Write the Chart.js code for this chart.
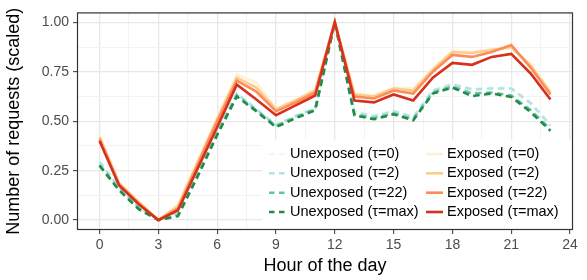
<!DOCTYPE html>
<html>
<head>
<meta charset="utf-8">
<script src="https://cdn.jsdelivr.net/npm/chart.js@4.4.1/dist/chart.umd.min.js"></script>
<style>
  html, body { margin: 0; padding: 0; background: #ffffff; }
  #wrap { width: 587px; height: 280px; }
</style>
</head>
<body>
<div id="wrap"><canvas id="c" width="587" height="280"></canvas></div>
<script>
// ---- data ----
const hours = [0,1,2,3,4,5,6,7,8,9,10,11,12,13,14,15,16,17,18,19,20,21,22,23];
const xTickValues = [0,3,6,9,12,15,18,21,24];
const yTickValues = [0,0.25,0.5,0.75,1];

const unexposedTau0   = [0.30,0.17,0.07,0.00,0.045,0.245,0.455,0.645,0.565,0.485,0.53,0.57,1.00,0.55,0.53,0.555,0.525,0.66,0.69,0.665,0.67,0.67,0.595,0.485];
const unexposedTau2   = [0.295,0.165,0.065,0.00,0.04,0.24,0.45,0.64,0.56,0.48,0.525,0.565,1.00,0.545,0.525,0.55,0.52,0.655,0.685,0.66,0.665,0.665,0.59,0.478];
const unexposedTau22  = [0.28,0.155,0.06,0.00,0.025,0.225,0.435,0.63,0.555,0.475,0.52,0.56,1.00,0.535,0.515,0.54,0.51,0.645,0.675,0.64,0.645,0.63,0.555,0.46];
const unexposedTauMax = [0.275,0.15,0.055,0.00,0.02,0.22,0.43,0.625,0.55,0.47,0.515,0.555,1.00,0.53,0.51,0.535,0.505,0.64,0.67,0.627,0.64,0.623,0.545,0.452];

const exposedTau0   = [0.43,0.19,0.095,0.00,0.08,0.30,0.52,0.735,0.695,0.565,0.61,0.66,1.00,0.64,0.63,0.67,0.665,0.765,0.855,0.85,0.865,0.87,0.79,0.65];
const exposedTau2   = [0.42,0.185,0.09,0.00,0.07,0.29,0.51,0.72,0.67,0.56,0.605,0.655,1.00,0.635,0.625,0.665,0.655,0.76,0.85,0.845,0.86,0.875,0.78,0.645];
const exposedTau22  = [0.41,0.18,0.085,0.00,0.06,0.28,0.50,0.705,0.65,0.55,0.595,0.645,1.00,0.625,0.615,0.655,0.64,0.75,0.835,0.825,0.85,0.885,0.77,0.635];
const exposedTauMax = [0.40,0.175,0.08,0.00,0.05,0.26,0.47,0.685,0.61,0.53,0.58,0.63,1.00,0.605,0.595,0.635,0.605,0.72,0.795,0.785,0.825,0.84,0.74,0.61];

const unexposedLabels = ['Unexposed (τ=0)','Unexposed (τ=2)','Unexposed (τ=22)','Unexposed (τ=max)'];
const exposedLabels   = ['Exposed (τ=0)','Exposed (τ=2)','Exposed (τ=22)','Exposed (τ=max)'];

// ---- styles ----
const unexposedColors = ['#edf8fb','#b2e2e2','#66c2a4','#238b45'];
const exposedColors   = ['#fef0d9','#fdcc8a','#fc8d59','#d7301f'];
const DASH = [6.5, 4.5];
const LW = 2.6;

const unexposedSeries = [unexposedTau0, unexposedTau2, unexposedTau22, unexposedTauMax];
const exposedSeries   = [exposedTau0, exposedTau2, exposedTau22, exposedTauMax];

const datasets = [];
unexposedSeries.forEach((s, i) => datasets.push({
  label: unexposedLabels[i],
  data: hours.map((h, k) => ({x: h, y: s[k]})),
  borderColor: unexposedColors[i], borderWidth: LW, borderDash: DASH,
  pointRadius: 0, tension: 0, fill: false, order: 100 - i
}));
exposedSeries.forEach((s, i) => datasets.push({
  label: exposedLabels[i],
  data: hours.map((h, k) => ({x: h, y: s[k]})),
  borderColor: exposedColors[i], borderWidth: LW, borderDash: [],
  pointRadius: 0, tension: 0, fill: false, order: 50 - i
}));

const isMajor = (v, step) => Math.abs(v / step - Math.round(v / step)) < 1e-6;

const legendPlugin = {
  id: 'boxLegend',
  afterDatasetsDraw(chart) {
    const ctx = chart.ctx;
    const ca = chart.chartArea;
    ctx.save();
    ctx.fillStyle = '#ffffff';
    ctx.fillRect(262, 140, ca.right - 262, ca.bottom - 140);
    ctx.font = '14.5px "Liberation Sans", Arial, sans-serif';
    ctx.textBaseline = 'middle';
    ctx.textAlign = 'left';
    const rows = [154, 173.3, 192.7, 212];
    const cols = [
      {k0: 269, k1: 285, tx: 290, labels: unexposedLabels, colors: unexposedColors, dash: [5.5, 4.5]},
      {k0: 426, k1: 443, tx: 447, labels: exposedLabels, colors: exposedColors, dash: []}
    ];
    cols.forEach(c => {
      c.labels.forEach((lab, i) => {
        const y = rows[i];
        ctx.beginPath();
        ctx.setLineDash(c.dash);
        ctx.lineWidth = LW;
        ctx.strokeStyle = c.colors[i];
        ctx.moveTo(c.k0, y);
        ctx.lineTo(c.k1, y);
        ctx.stroke();
        ctx.setLineDash([]);
        ctx.fillStyle = '#000000';
        ctx.fillText(lab, c.tx, y);
      });
    });
    ctx.restore();
  },
  afterDraw(chart) {
    const ctx = chart.ctx;
    const ca = chart.chartArea;
    ctx.save();
    ctx.strokeStyle = '#333333';
    ctx.lineWidth = 1.2;
    ctx.strokeRect(ca.left + 0.5, ca.top + 0.5, ca.right - ca.left - 1, ca.bottom - ca.top - 1);
    ctx.restore();
  }
};

new Chart(document.getElementById('c'), {
  type: 'line',
  data: { datasets },
  options: {
    responsive: false,
    devicePixelRatio: 1,
    animation: false,
    layout: { padding: { top: 5, right: 14, left: 0, bottom: 0 } },
    plugins: { legend: { display: false }, tooltip: { enabled: false } },
    scales: {
      x: {
        type: 'linear',
        min: -1.15, max: 24.15,
        afterBuildTicks(scale) {
          const t = [];
          for (let i = 0; i < xTickValues.length; i++) {
            t.push({value: xTickValues[i]});
            if (i < xTickValues.length - 1) t.push({value: (xTickValues[i] + xTickValues[i+1]) / 2});
          }
          scale.ticks = t;
        },
        afterFit(scale) { scale.height = 50; },
        ticks: {
          autoSkip: false, maxRotation: 0, padding: 3,
          color: '#4d4d4d',
          font: { size: 14, family: '"Liberation Sans", Arial, sans-serif' },
          callback: (v) => xTickValues.includes(v) ? String(v) : ''
        },
        grid: {
          color: (c) => isMajor(c.tick.value, 3) ? '#e8e8e8' : '#f2f2f2',
          lineWidth: (c) => isMajor(c.tick.value, 3) ? 1.3 : 0.9,
          tickColor: (c) => isMajor(c.tick.value, 3) ? '#333333' : 'rgba(0,0,0,0)',
          tickLength: 4, tickWidth: 1
        },
        border: { display: false },
        title: {
          display: true, text: 'Hour of the day', color: '#000000',
          font: { size: 18, family: '"Liberation Sans", Arial, sans-serif' },
          padding: { top: 0, bottom: 3 }
        }
      },
      y: {
        type: 'linear',
        min: -0.05, max: 1.05,
        afterBuildTicks(scale) {
          const t = [];
          for (let i = 0; i < yTickValues.length; i++) {
            t.push({value: yTickValues[i]});
            if (i < yTickValues.length - 1) t.push({value: (yTickValues[i] + yTickValues[i+1]) / 2});
          }
          scale.ticks = t;
        },
        afterFit(scale) { scale.width = 77; },
        ticks: {
          autoSkip: false, padding: 4,
          color: '#4d4d4d',
          font: { size: 14, family: '"Liberation Sans", Arial, sans-serif' },
          callback: (v) => yTickValues.some(t => Math.abs(t - v) < 1e-9) ? v.toFixed(2) : ''
        },
        grid: {
          color: (c) => isMajor(c.tick.value, 0.25) ? '#e8e8e8' : '#f2f2f2',
          lineWidth: (c) => isMajor(c.tick.value, 0.25) ? 1.3 : 0.9,
          tickColor: (c) => isMajor(c.tick.value, 0.25) ? '#333333' : 'rgba(0,0,0,0)',
          tickLength: 4, tickWidth: 1
        },
        border: { display: false },
        title: {
          display: true, text: 'Number of requests (scaled)', color: '#000000',
          font: { size: 18, family: '"Liberation Sans", Arial, sans-serif' },
          padding: { top: 3, bottom: 0 }
        }
      }
    }
  },
  plugins: [legendPlugin]
});
</script>
</body>
</html>
